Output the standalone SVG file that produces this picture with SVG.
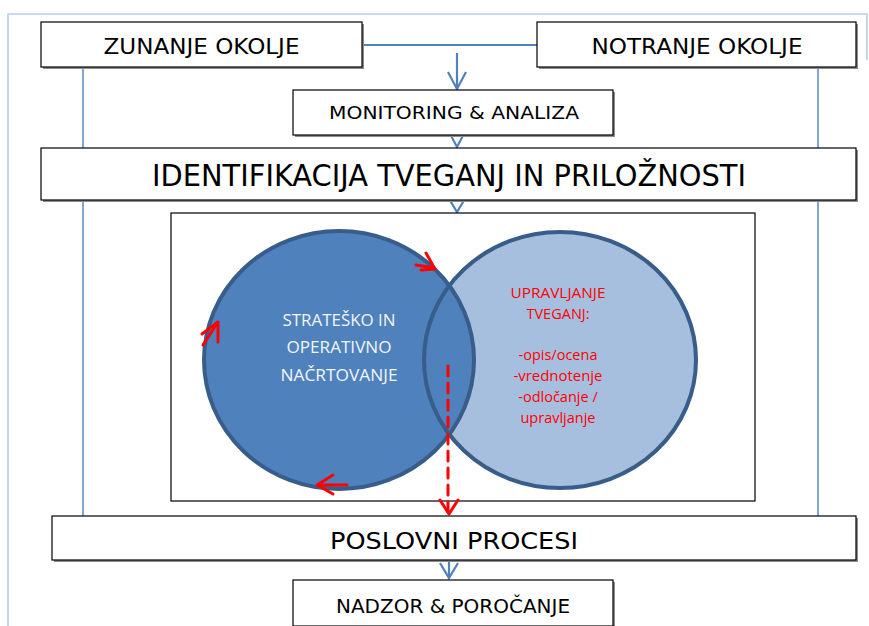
<svg xmlns="http://www.w3.org/2000/svg" width="869" height="626" viewBox="0 0 869 626">
<style>
.box{fill:#fff;stroke:#000;stroke-width:1.2}
.shadow{fill:#8c8c8c}
.lbl{font-family:"DejaVu Sans","Liberation Sans",sans-serif;fill:#000;text-anchor:middle}
.con{fill:none;stroke:#4f81bd;stroke-width:2.2}
.thin{fill:none;stroke:#4f81bd;stroke-width:1.4}
.frame{fill:none;stroke:#b9cde5;stroke-width:1.6}
.red{fill:none;stroke:#ff0000;stroke-width:3;stroke-linecap:round;stroke-linejoin:round}
.ctext{font-family:"Open Sans","Liberation Sans",sans-serif;text-anchor:middle}
.wt{fill:#f2f6fb;font-size:16.5px}
.rt{fill:#ff0000;font-size:14.5px}
</style>
<rect width="869" height="626" fill="#fff"/>
<polyline class="frame" points="8,626 8,14 867,14 867,60"/>
<g id="connectors">
  <line class="thin" x1="83" y1="67" x2="83" y2="516"/>
  <line class="thin" x1="818" y1="67" x2="818" y2="516"/>
  <line class="con" x1="362" y1="45" x2="537" y2="45"/>
  <line class="con" x1="457" y1="53" x2="457" y2="89"/>
  <polyline class="con" points="448,72 457,89 466,72"/>
  <polyline class="con" points="448,130 457,147 466,130"/>
  <polyline class="con" points="448,197 457,212 466,197"/>
  <polyline class="con" points="440,563 449,578 458,563"/>
  <line class="con" x1="449" y1="558" x2="449" y2="578"/>
</g>
<g id="zunanje"><rect class="shadow" x="43" y="24" width="321" height="45"/><rect class="box" x="41" y="22" width="321" height="45"/><text class="lbl" x="201.5" y="54" font-size="20.5" textLength="196" lengthAdjust="spacingAndGlyphs">ZUNANJE OKOLJE</text></g>
<g id="notranje"><rect class="shadow" x="539" y="24" width="319" height="45"/><rect class="box" x="537" y="22" width="319" height="45"/><text class="lbl" x="697" y="54" font-size="20.5" textLength="211" lengthAdjust="spacingAndGlyphs">NOTRANJE OKOLJE</text></g>
<g id="monitoring"><rect class="shadow" x="295" y="92" width="320" height="45"/><rect class="box" x="293" y="90" width="320" height="45"/><text class="lbl" x="454" y="119" font-size="18" textLength="250" lengthAdjust="spacingAndGlyphs">MONITORING &amp; ANALIZA</text></g>
<g id="identifikacija"><rect class="shadow" x="43" y="150" width="815" height="52"/><rect class="box" x="41" y="148" width="815" height="52"/><text class="lbl" x="449" y="185.5" font-size="30" textLength="594" lengthAdjust="spacingAndGlyphs">IDENTIFIKACIJA TVEGANJ IN PRILOŽNOSTI</text></g>
<g id="inner"><rect class="box" x="171" y="213" width="584" height="288"/></g>
<g id="circles">
  <ellipse cx="560" cy="360" rx="136" ry="128" fill="#a7bfde"/>
  <ellipse cx="339" cy="360" rx="135" ry="129" fill="#4f81bd"/>
  <ellipse cx="560" cy="360" rx="136" ry="128" fill="none" stroke="#385d8a" stroke-width="4"/>
  <ellipse cx="339" cy="360" rx="135" ry="129" fill="none" stroke="#385d8a" stroke-width="4"/>
</g>
<g id="strateško">
  <text class="ctext wt" x="339" y="326" textLength="113" lengthAdjust="spacingAndGlyphs">STRATEŠKO IN</text>
  <text class="ctext wt" x="339" y="353" textLength="105" lengthAdjust="spacingAndGlyphs">OPERATIVNO</text>
  <text class="ctext wt" x="339" y="381" textLength="117" lengthAdjust="spacingAndGlyphs">NAČRTOVANJE</text>
</g>
<g id="upravljanje">
  <text class="ctext rt" x="558" y="298" textLength="95" lengthAdjust="spacingAndGlyphs">UPRAVLJANJE</text>
  <text class="ctext rt" x="558" y="319">TVEGANJ:</text>
  <text class="ctext rt" x="558" y="360">-opis/ocena</text>
  <text class="ctext rt" x="558" y="381" textLength="89" lengthAdjust="spacingAndGlyphs">-vrednotenje</text>
  <text class="ctext rt" x="558" y="402">-odločanje /</text>
  <text class="ctext rt" x="558" y="423">upravljanje</text>
</g>
<g id="red-arrows">
  <line class="red" x1="416" y1="265" x2="434" y2="268"/>
  <polyline class="red" points="426,253 435,269 421,270"/>
  <line class="red" x1="203" y1="345" x2="216" y2="325"/>
  <polyline class="red" points="202,334 218,322 218,342"/>
  <line class="red" x1="347" y1="485" x2="318" y2="485"/>
  <polyline class="red" points="333,475 317,485 333,494"/>
  <line class="red" x1="448" y1="366" x2="448" y2="512" stroke-dasharray="10,7" stroke-linecap="butt"/>
  <polyline class="red" points="440,500 449,514 458,500"/>
</g>
<g id="poslovni"><rect class="shadow" x="54" y="518" width="804" height="44"/><rect class="box" x="52" y="516" width="804" height="44"/><text class="lbl" x="454" y="548.5" font-size="23" textLength="248" lengthAdjust="spacingAndGlyphs">POSLOVNI PROCESI</text></g>
<g id="nadzor"><rect class="shadow" x="295" y="582" width="320" height="46"/><rect class="box" x="293" y="580" width="320" height="46"/><text class="lbl" x="453" y="613" font-size="19.5" textLength="234" lengthAdjust="spacingAndGlyphs">NADZOR &amp; POROČANJE</text></g>
</svg>
